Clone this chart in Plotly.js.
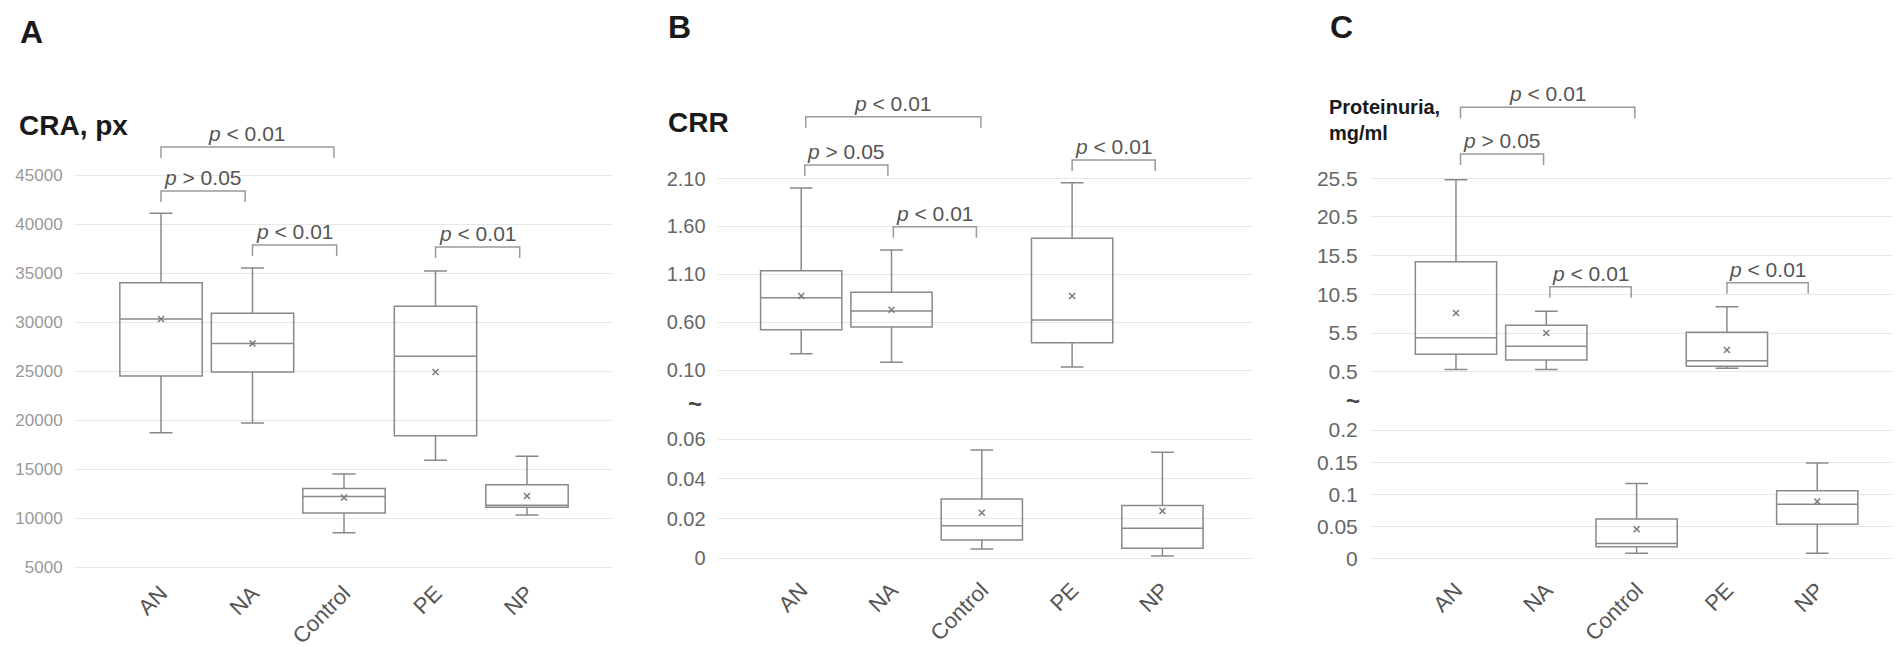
<!DOCTYPE html>
<html><head><meta charset="utf-8">
<script src="https://cdn.plot.ly/plotly-3.0.1.min.js"></script>
<style>html,body{margin:0;padding:0;background:#fff}#chart{width:1900px;height:647px}</style>
</head><body><div id="chart"></div>
<script>
// ---------- DATA ----------
const categories = ['AN', 'NA', 'Control', 'PE', 'NP'];

// Panel A: CRA, px
const craLow    = [18700, 19700,  8500, 15900, 10300];
const craQ1     = [24500, 24900, 10500, 18400, 11100];
const craMedian = [30300, 27800, 12200, 26500, 11300];
const craQ3     = [34000, 30900, 13000, 31600, 13400];
const craHigh   = [41100, 35500, 14500, 35200, 16300];
const craMean   = [30300, 27800, 12100, 24900, 12250];
const craTicks  = [5000, 10000, 15000, 20000, 25000, 30000, 35000, 40000, 45000];

// Panel B: CRR (broken axis)
const crrLow    = [0.27, 0.18, 0.0047, 0.13, 0.0012];
const crrQ1     = [0.52, 0.55, 0.0092, 0.385, 0.005];
const crrMedian = [0.855, 0.716, 0.0164, 0.622, 0.0151];
const crrQ3     = [1.137, 0.911, 0.0298, 1.475, 0.0265];
const crrHigh   = [2.0, 1.353, 0.0545, 2.056, 0.0533];
const crrMean   = [0.873, 0.73, 0.0229, 0.873, 0.0238];
const crrUpperTicks = [0.1, 0.6, 1.1, 1.6, 2.1];
const crrLowerTicks = [0, 0.02, 0.04, 0.06];
const crrBreak = 0.08;

// Panel C: Proteinuria, mg/ml (broken axis)
const protLow    = [0.8, 0.8, 0.009, 0.94, 0.009];
const protQ1     = [2.75, 2.0, 0.019, 1.2, 0.054];
const protMedian = [4.9, 3.8, 0.024, 1.9, 0.085];
const protQ3     = [14.7, 6.5, 0.062, 5.6, 0.106];
const protHigh   = [25.3, 8.3, 0.117, 8.9, 0.149];
const protMean   = [8.1, 5.5, 0.046, 3.3, 0.089];
const protUpperTicks = [0.5, 5.5, 10.5, 15.5, 20.5, 25.5];
const protLowerTicks = [0, 0.05, 0.1, 0.15, 0.2];
const protBreak = 0.3;

// significance brackets: [from category index, to, level (data units on upper axis), label]
const craBrackets  = [[0, 1.89, 47850, 'lt01'], [0, 0.92, 43370, 'gt05'], [1, 1.92, 37860, 'lt01'], [3, 3.92, 37650, 'lt01']];
const crrBrackets  = [[0.05, 1.99, 2.745, 'lt01'], [0.04, 0.96, 2.241, 'gt05'], [1.02, 1.94, 1.597, 'lt01'], [3.0, 3.92, 2.293, 'lt01']];
const protBrackets = [[0.05, 1.98, 34.68, 'lt01'], [0.05, 0.97, 28.64, 'gt05'], [1.04, 1.94, 11.49, 'lt01'], [3.0, 3.9, 12.0, 'lt01']];
const pLabels = {lt01: '<i>p</i> &lt; 0.01', gt05: '<i>p</i> &gt; 0.05'};

// ---------- LAYOUT HELPERS ----------
const W = 1900, H = 647;
const FONT = '"Liberation Sans", Arial, Helvetica, sans-serif';
const xd = (l, r) => [l / W, r / W];
const yd = (top, bottom) => [1 - bottom / H, 1 - top / H];

const axes = {
  A:  {x: 'x',  y: 'y',  ydomPx: [90, 575],  range: [4183.7, 53673.5]},
  Bu: {x: 'x2', y: 'y2', ydomPx: [85, 385],  range: [-0.0567, 3.0765]},
  Bl: {x: 'x2', y: 'y3', ydomPx: [420, 572], range: [-0.00689, 0.06957]},
  Cu: {x: 'x3', y: 'y4', ydomPx: [80, 385],  range: [-1.219, 38.21]},
  Cl: {x: 'x3', y: 'y5', ydomPx: [415, 572], range: [-0.0202, 0.2233]}
};
function unitsPerPx(ax) {
  return (ax.range[1] - ax.range[0]) / (ax.ydomPx[1] - ax.ydomPx[0]);
}

const BOXLINE = '#8a8a8a';
function boxTrace(idx, low, q1, med, q3, high, ax) {
  return {
    type: 'box',
    x: idx.map(i => categories[i]),
    lowerfence: idx.map(i => low[i]),
    q1: idx.map(i => q1[i]),
    median: idx.map(i => med[i]),
    q3: idx.map(i => q3[i]),
    upperfence: idx.map(i => high[i]),
    xaxis: ax.x, yaxis: ax.y,
    width: 0.9, whiskerwidth: 0.28,
    line: {color: BOXLINE, width: 1.5},
    fillcolor: 'rgba(255,255,255,0)',
    boxpoints: false, hoverinfo: 'skip', showlegend: false
  };
}
function meanTrace(idx, mean, ax) {
  return {
    type: 'scatter', mode: 'markers',
    x: idx.map(i => categories[i]),
    y: idx.map(i => mean[i]),
    xaxis: ax.x, yaxis: ax.y,
    marker: {symbol: 'x-thin-open', size: 6, color: '#7a7a7a', line: {width: 1.5, color: '#7a7a7a'}},
    hoverinfo: 'skip', showlegend: false
  };
}
const allIdx = categories.map((_, i) => i);
const splitIdx = (med, brk, upper) => allIdx.filter(i => upper ? med[i] >= brk : med[i] < brk);

const traces = [
  boxTrace(allIdx, craLow, craQ1, craMedian, craQ3, craHigh, axes.A),
  meanTrace(allIdx, craMean, axes.A),
  boxTrace(splitIdx(crrMedian, crrBreak, true), crrLow, crrQ1, crrMedian, crrQ3, crrHigh, axes.Bu),
  meanTrace(splitIdx(crrMedian, crrBreak, true), crrMean, axes.Bu),
  boxTrace(splitIdx(crrMedian, crrBreak, false), crrLow, crrQ1, crrMedian, crrQ3, crrHigh, axes.Bl),
  meanTrace(splitIdx(crrMedian, crrBreak, false), crrMean, axes.Bl),
  boxTrace(splitIdx(protMedian, protBreak, true), protLow, protQ1, protMedian, protQ3, protHigh, axes.Cu),
  meanTrace(splitIdx(protMedian, protBreak, true), protMean, axes.Cu),
  boxTrace(splitIdx(protMedian, protBreak, false), protLow, protQ1, protMedian, protQ3, protHigh, axes.Cl),
  meanTrace(splitIdx(protMedian, protBreak, false), protMean, axes.Cl)
];

// ---------- AXES ----------
function xAxis(domPx, range, anchor) {
  return {
    domain: xd(domPx[0], domPx[1]), range: range, anchor: anchor,
    type: 'category', categoryorder: 'array', categoryarray: categories,
    tickangle: -45, tickfont: {size: 22, color: '#555', family: FONT},
    showgrid: false, zeroline: false, showline: false, ticks: '', fixedrange: true
  };
}
function yAxis(ax, xanchor, tickvals, fontSize, color, fmt) {
  const o = {
    domain: yd(ax.ydomPx[0], ax.ydomPx[1]), range: ax.range, anchor: xanchor,
    tickmode: 'array', tickvals: tickvals,
    tickfont: {size: fontSize, color: color, family: FONT},
    showgrid: true, gridcolor: '#e8e8e8', gridwidth: 1,
    zeroline: false, showline: false,
    ticks: 'outside', ticklen: 7, tickcolor: 'rgba(0,0,0,0)', fixedrange: true
  };
  if (fmt) o.tickformat = fmt;
  return o;
}

// ---------- ANNOTATIONS & SHAPES ----------
const annotations = [];
const shapes = [];
function text(x, y, t, size, opts) {
  annotations.push(Object.assign({
    xref: 'paper', yref: 'paper', x: x / W, y: 1 - y / H, text: t, showarrow: false,
    font: {size: size, color: '#1a1a1a', family: FONT}, xanchor: 'left', yanchor: 'middle', align: 'left'
  }, opts || {}));
}
// panel letters & titles
text(18, 32, '<b>A</b>', 32);
text(17, 125, '<b>CRA, px</b>', 28);
text(666, 27, '<b>B</b>', 32);
text(666, 123, '<b>CRR</b>', 28);
text(1328, 27, '<b>C</b>', 32);
text(1327, 120, '<b>Proteinuria,</b><br><b>mg/ml</b>', 20);
// axis break marks
text(695, 403, '<b>~</b>', 24, {xanchor: 'center', font: {size: 24, color: '#444', family: FONT}});
text(1353, 400, '<b>~</b>', 24, {xanchor: 'center', font: {size: 24, color: '#444', family: FONT}});

function addBrackets(list, ax) {
  const drop = 11 * unitsPerPx(ax);
  const xr = ax.x, yr = ax.y;
  list.forEach(([a, b, lvl, lab]) => {
    shapes.push({
      type: 'path', xref: xr, yref: yr,
      path: `M ${a},${lvl - drop} L ${a},${lvl} L ${b},${lvl} L ${b},${lvl - drop}`,
      line: {color: '#9a9a9a', width: 1.5}
    });
    annotations.push({
      xref: xr, yref: yr, x: (a + b) / 2, y: lvl, text: pLabels[lab], showarrow: false,
      xanchor: 'center', yanchor: 'bottom', yshift: 0,
      font: {size: 21, color: '#555', family: FONT}
    });
  });
}
addBrackets(craBrackets, axes.A);
addBrackets(crrBrackets, axes.Bu);
addBrackets(protBrackets, axes.Cu);

const layout = {
  width: W, height: H,
  margin: {l: 0, r: 0, t: 0, b: 0},
  paper_bgcolor: '#fff', plot_bgcolor: '#fff',
  showlegend: false, boxmode: 'overlay',
  font: {family: FONT},
  xaxis:  xAxis([74, 612], [-0.951, 4.929], 'y'),
  xaxis2: xAxis([717.6, 1252], [-0.926, 4.992], 'y3'),
  xaxis3: xAxis([1370, 1893], [-0.952, 4.839], 'y5'),
  yaxis:  yAxis(axes.A, 'x', craTicks, 17, '#999', 'd'),
  yaxis2: yAxis(axes.Bu, 'x2', crrUpperTicks, 20, '#666', '.2f'),
  yaxis3: yAxis(axes.Bl, 'x2', crrLowerTicks, 20, '#666'),
  yaxis4: yAxis(axes.Cu, 'x3', protUpperTicks, 21, '#666'),
  yaxis5: yAxis(axes.Cl, 'x3', protLowerTicks, 21, '#666'),
  annotations: annotations,
  shapes: shapes
};

Plotly.newPlot('chart', traces, layout, {staticPlot: true, displayModeBar: false});
</script>
</body></html>
